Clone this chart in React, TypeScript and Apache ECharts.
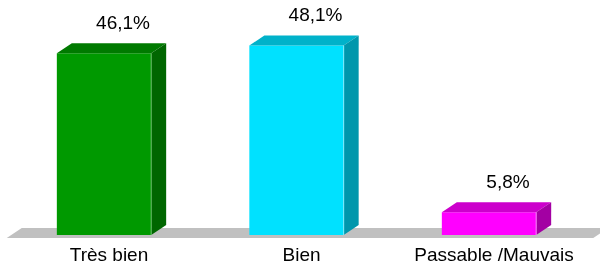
import React, { useEffect, useRef } from "react";
import * as echarts from "echarts";

const categories = ["Très bien", "Bien", "Passable /Mauvais"];
const values = [46.1, 48.1, 5.8];
const frontColors = ["#009900", "#00E1FF", "#FF00FF"];
const topColors = ["#007A00", "#00B2CA", "#CC00CC"];
const sideColors = ["#006600", "#0097AC", "#A300A3"];
const edgeColors = ["#66C266", "#7FEFFF", "#FF80FF"];

const FONT = "'Liberation Sans', Arial, Helvetica, sans-serif";
const DX = 15;
const DY = 10;

const fmt = (v: number) => v.toFixed(1).replace(".", ",") + "%";

export default function App() {
  const ref = useRef<HTMLDivElement>(null);
  useEffect(() => {
    const chart = echarts.init(ref.current!, null, { renderer: "svg" });
    chart.setOption({
      animation: false,
      grid: { left: 12.75, right: 9.75, top: 38, bottom: 33 },
      xAxis: {
        type: "category",
        data: categories,
        axisLine: { show: false },
        axisTick: { show: false },
        splitLine: { show: false },
        axisLabel: { fontSize: 19, color: "#000", fontFamily: FONT, margin: 10, interval: 0 },
      },
      yAxis: { type: "value", min: 0, max: 50, show: false },
      series: [
        {
          type: "custom",
          data: [[0, 0]],
          z: 1,
          silent: true,
          renderItem: (params: any, api: any) => {
            const cs = params.coordSys;
            const bottom = cs.y + cs.height + 3;
            const left = cs.x - 6;
            const right = cs.x + cs.width + 3;
            return {
              type: "polygon",
              shape: {
                points: [
                  [left, bottom],
                  [left + DX, bottom - DY],
                  [right + DX, bottom - DY],
                  [right, bottom],
                ],
              },
              style: { fill: "#C0C0C0" },
            };
          },
        },
        {
          type: "custom",
          data: values.map((v, i) => [i, v]),
          encode: { x: 0, y: 1 },
          z: 2,
          renderItem: (params: any, api: any) => {
            const idx = api.value(0);
            const v = api.value(1);
            const top = api.coord([idx, v]);
            const base = api.coord([idx, 0]);
            const band = api.size([1, 0])[0];
            const w = band * 0.49;
            const cx = top[0] - 5;
            const x0 = cx - w / 2;
            const x1 = cx + w / 2;
            const yT = top[1];
            const yB = base[1];
            const i = params.dataIndex;
            return {
              type: "group",
              children: [
                {
                  type: "rect",
                  shape: { x: x0, y: yT, width: w, height: yB - yT },
                  style: { fill: frontColors[i] },
                },
                {
                  type: "polygon",
                  shape: { points: [[x0, yT], [x0 + DX, yT - DY], [x1 + DX, yT - DY], [x1, yT]] },
                  style: { fill: topColors[i] },
                },
                {
                  type: "polygon",
                  shape: { points: [[x1, yT], [x1 + DX, yT - DY], [x1 + DX, yB - DY], [x1, yB]] },
                  style: { fill: sideColors[i] },
                },
                {
                  type: "line",
                  shape: { x1: x1, y1: yT, x2: x1, y2: yB },
                  style: { stroke: edgeColors[i], lineWidth: 1 },
                },
                {
                  type: "text",
                  x: cx + 19,
                  y: yT - DY - 21,
                  style: {
                    text: fmt(v),
                    align: "center",
                    verticalAlign: "middle",
                    fontSize: 19,
                    fontFamily: FONT,
                    fill: "#000",
                  },
                },
              ],
            };
          },
        },
      ],
    });
    return () => chart.dispose();
  }, []);
  return (
    <div
      ref={ref}
      style={{ position: "fixed", left: 0, top: 0, width: 600, height: 268 }}
    />
  );
}
